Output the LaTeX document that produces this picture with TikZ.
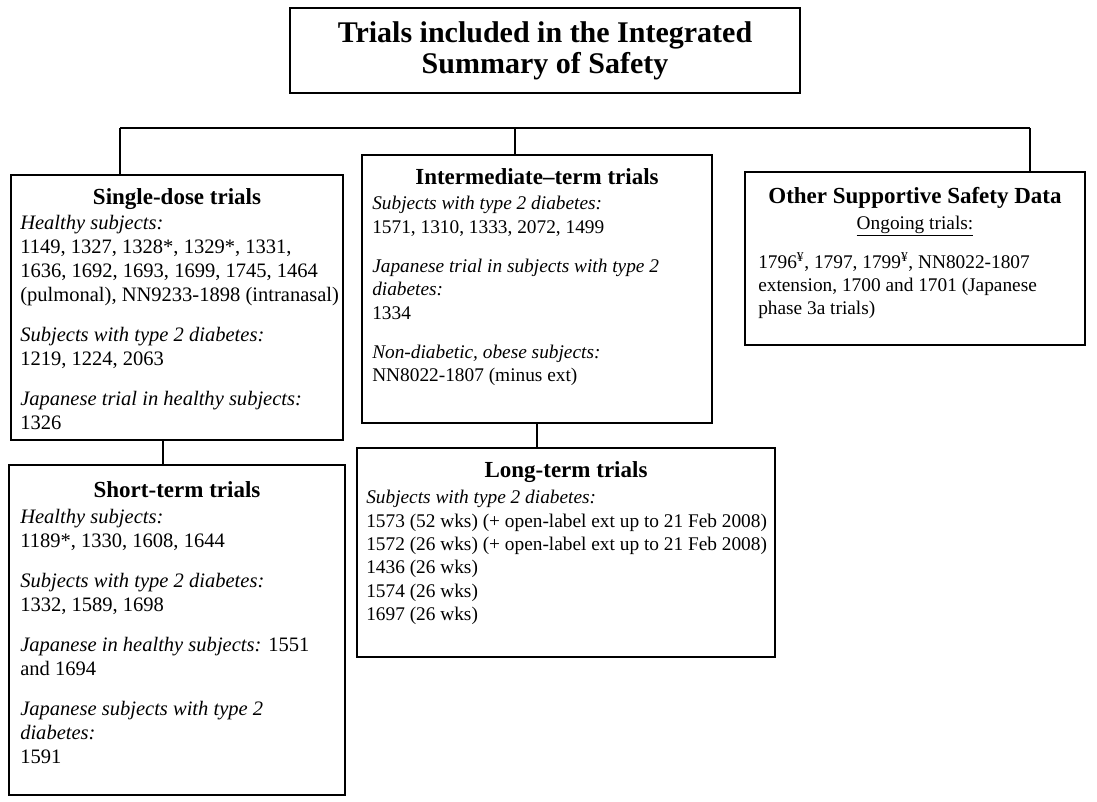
\documentclass[tikz,border=0pt]{standalone}
\usepackage{fontspec}
\setmainfont{Liberation Serif}
\usepackage{tikz}
\usetikzlibrary{positioning,fit}

\begin{document}
\begin{tikzpicture}[
  x=0.75pt, y=-0.75pt,
  box/.style={draw, line width=1.1pt, inner sep=0pt},
  head/.style={anchor=base, inner sep=0pt, font=\fontsize{17.25pt}{20pt}\selectfont\bfseries},
  body/.style={anchor=north west, align=left, inner sep=0pt,
               font=\fontsize{15.4pt}{18pt}\selectfont},
  smallbody/.style={body, font=\fontsize{14.5pt}{17.5pt}\selectfont},
  link/.style={line width=0.9pt},
]
\useasboundingbox (0,0) rectangle (1097,801);

% title
\node[box, line width=1.8pt, fit={(290,8) (800,93)}] (top) {};
\node[align=center, inner sep=0pt, font=\fontsize{22.5pt}{23pt}\selectfont\bfseries]
  (toptext) at (top.center) {Trials included in the Integrated\\Summary of Safety};

% first row
\node[box, fit={(11,175) (343,440)}] (single) {};
\node[head] (singlehead) at (177,204) {Single-dose trials};
\node[body] (singletext) at (20,215) {%
  \textit{Healthy subjects:}\\
  1149, 1327, 1328*, 1329*, 1331,\\
  1636, 1692, 1693, 1699, 1745, 1464\\
  (pulmonal), NN9233-1898 (intranasal)\\[12pt]
  \textit{Subjects with type 2 diabetes:}\\
  1219, 1224, 2063\\[12pt]
  \textit{Japanese trial in healthy subjects:}\\
  1326};

\node[box, fit={(362,155) (712,423)}] (inter) {};
\node[head] (interhead) at (537,184) {Intermediate–term trials};
\node[smallbody] (intertext) at (372,196) {%
  \textit{Subjects with type 2 diabetes:}\\
  1571, 1310, 1333, 2072, 1499\\[12pt]
  \textit{Japanese trial in subjects with type 2}\\
  \textit{diabetes:}\\
  1334\\[12pt]
  \textit{Non-diabetic, obese subjects:}\\
  NN8022-1807 (minus ext)};

\node[box, fit={(745,172) (1085,345)}] (other) {};
\node[head] (otherhead) at (915,203) {Other Supportive Safety Data};
\node[anchor=base, inner sep=0pt, font=\fontsize{14.5pt}{16.875pt}\selectfont]
  (ongoing) at (915,229) {\underline{Ongoing trials:}};
\node[smallbody] (othertext) at (758,252) {%
  1796\textsuperscript{¥}, 1797, 1799\textsuperscript{¥}, NN8022-1807\\
  extension, 1700 and 1701 (Japanese\\
  phase 3a trials)};

% second row
\node[box, fit={(9,465) (345,795)}] (short) {};
\node[head] (shorthead) at (177,497) {Short-term trials};
\node[body] (shorttext) at (20,509) {%
  \textit{Healthy subjects:}\\
  1189*, 1330, 1608, 1644\\[12pt]
  \textit{Subjects with type 2 diabetes:}\\
  1332, 1589, 1698\\[12pt]
  \textit{Japanese in healthy subjects:} 1551\\
  and 1694\\[12pt]
  \textit{Japanese subjects with type 2}\\
  \textit{diabetes:}\\
  1591};

\node[box, fit={(357,448) (775,657)}] (long) {};
\node[head] (longhead) at (566,477) {Long-term trials};
\node[smallbody] (longtext) at (366,490) {%
  \textit{Subjects with type 2 diabetes:}\\
  1573 (52 wks) (+ open-label ext up to 21 Feb 2008)\\
  1572 (26 wks) (+ open-label ext up to 21 Feb 2008)\\
  1436 (26 wks)\\
  1574 (26 wks)\\
  1697 (26 wks)};

% connectors
\coordinate (busL) at (120,128);
\coordinate (busM) at (515,128);
\coordinate (busR) at (1030,128);
\draw[link] (busL) -- (busR);
\draw[link] (busL) -- (busL |- single.north);
\draw[link] (busM) -- (busM |- inter.north);
\draw[link] (busR) -- (busR |- other.north);
\draw[link] ([xshift=-10.5pt]single.south) -- ([xshift=-10.5pt]single.south |- short.north);
\draw[link] (inter.south) -- (inter.south |- long.north);
\end{tikzpicture}
\end{document}
